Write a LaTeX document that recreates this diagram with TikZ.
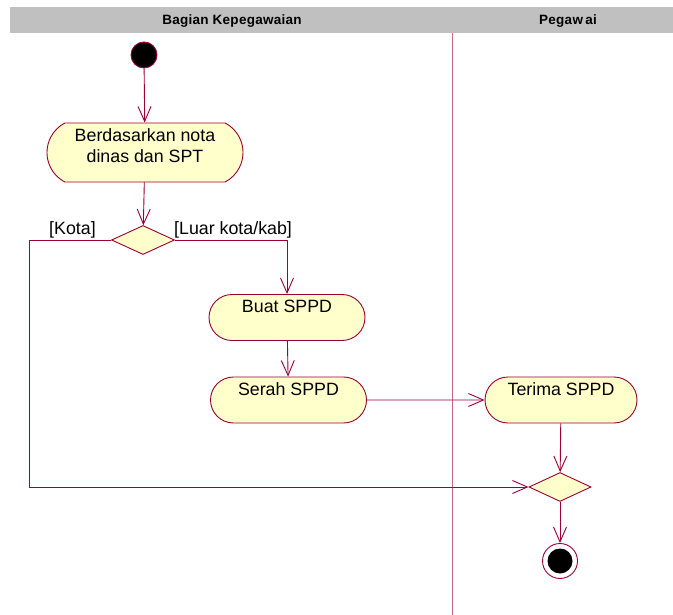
\documentclass[tikz,border=0pt]{standalone}
\usepackage{fontspec}
\setmainfont{Liberation Sans}
\usetikzlibrary{shapes.geometric,shapes.misc,arrows.meta}

\definecolor{umlred}{HTML}{990033}
\definecolor{actfill}{HTML}{FFFFCC}
\definecolor{lanegray}{HTML}{C0C0C0}
\definecolor{laneline}{HTML}{C8668C}

\newcommand{\acttext}{\fontsize{17.8pt}{21pt}\selectfont}
\newcommand{\lanetext}{\fontsize{13.5pt}{15pt}\selectfont\bfseries\addfontfeature{LetterSpace=2}}

\tikzset{
  act/.style={rounded rectangle, draw=umlred, fill=actfill, line width=0.9pt,
    inner xsep=0pt, inner ysep=2pt, text height=16pt, text depth=26pt,
    minimum height=44pt, font=\acttext},
  decision/.style={diamond, draw=umlred, fill=actfill, line width=0.9pt,
    inner sep=0pt, minimum width=63pt, minimum height=29pt},
  flow/.style={draw=umlred, line width=0.9pt,
    -{Straight Barb[length=15pt,width=13pt,line width=0.9pt]}},
  guard/.style={font=\acttext, inner sep=0pt, anchor=base west},
  lanehead/.style={font=\lanetext, inner sep=0pt, anchor=base}
}

\begin{document}
\begin{tikzpicture}[x=1pt, y=-1pt]
  \useasboundingbox[fill=white] (0,0) rectangle (673,615);

  % swimlane header and divider
  \fill[lanegray] (10,7) rectangle (673,33);
  \node[lanehead] (laneA) at (232,25) {Bagian Kepegawaian};
  \node[lanehead] (laneB) at (568,25) {Pegaw\,ai};
  \draw[laneline, line width=0.9pt] (452,33) -- (452,615);

  % activities
  \node[circle, fill=black, draw=umlred, line width=0.9pt, minimum size=26pt,
        inner sep=0pt] (start) at (144,55) {};
  \node[act, rounded rectangle arc length=125, minimum width=196pt, minimum height=59pt,
        text height=16.7pt, text depth=38.3pt] (nota) at (145,152.5)
        {\begin{tabular}[t]{@{}c@{}}Berdasarkan nota\hspace{6pt}\\dinas dan SPT\end{tabular}};
  \node[decision] (dec) at (143,240) {};
  \node[act, minimum width=156pt] (buat) at (287,317.5) {Buat SPPD};
  \node[act, minimum width=156pt] (serah) at (288.5,400) {Serah SPPD};
  \node[act, minimum width=152pt] (terima) at (561,400) {Terima SPPD};
  \node[decision, minimum width=62pt] (merge) at (560,487) {};
  \node[circle, draw=umlred, fill=white, line width=0.9pt, minimum size=35pt,
        inner sep=0pt] (stop) at (560,561) {};
  \node[circle, fill=black, minimum size=25pt, inner sep=0pt] (stopdot) at (stop) {};

  % guards
  \node[guard] (gkota) at (49,235) {[Kota]};
  \node[guard] (gluar) at (174,235) {[Luar kota/kab]};

  % bend points
  \coordinate (kotaTop) at (29,240);
  \coordinate (kotaBot) at (29,487);
  \coordinate (luarTop) at (287,240);

  % control flows
  \draw[flow] (start) -- (nota);
  \draw[flow] (nota) -- (dec);
  \draw[flow] (dec.east) -- (luarTop) -- (buat.north);
  \draw[flow] (buat) -- (serah);
  \draw[flow] (serah) -- (terima);
  \draw[flow] (terima) -- (merge);
  \draw[flow] (dec.west) -- (kotaTop) -- (kotaBot) -- (merge.west);
  \draw[flow] (merge) -- (stop);
\end{tikzpicture}
\end{document}
